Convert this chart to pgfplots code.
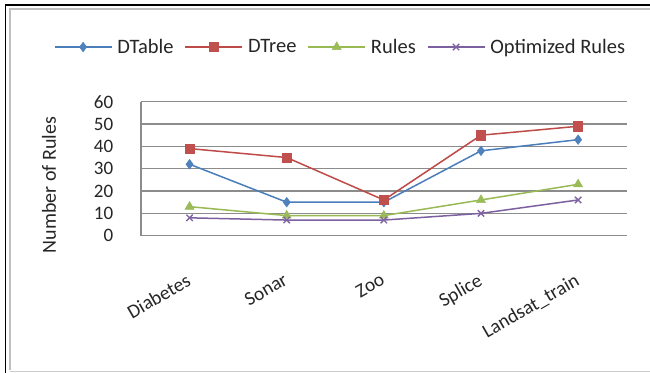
\documentclass[border=0pt]{standalone}
\usepackage{fontspec}
\setmainfont{Carlito}
\usepackage{pgfplots}
\pgfplotsset{compat=1.18}

\definecolor{dtableL}{HTML}{4A7EBB}
\definecolor{dtableM}{HTML}{4F81BD}
\definecolor{dtreeL}{HTML}{BE4B48}
\definecolor{dtreeM}{HTML}{C0504D}
\definecolor{rulesL}{HTML}{98B954}
\definecolor{rulesM}{HTML}{9BBB59}
\definecolor{optL}{HTML}{7D60A0}
\definecolor{optM}{HTML}{8064A2}
\definecolor{gridgray}{HTML}{8C8C8C}
\definecolor{txt}{HTML}{262626}

\begin{document}
\begin{tikzpicture}
% page and frame
\path[use as bounding box] (0bp,0bp) rectangle (650bp,373bp);
\fill[white] (0bp,0bp) rectangle (650bp,373bp);
\draw[black, line width=1.6bp] (5.5bp,0bp) -- (5.5bp,368bp) -- (650bp,368bp);
\draw[black!25, line width=2.5bp] (10bp,2.5bp) -- (10bp,364bp) -- (650bp,364bp);
\draw[black!20, line width=1bp] (10bp,1.5bp) -- (650bp,1.5bp);

\begin{axis}[
  at={(141bp,137.3bp)}, anchor=south west,
  scale only axis, width=485.7bp, height=134bp,
  xmin=-0.5, xmax=4.5, ymin=0, ymax=60,
  xtick={0,1,2,3,4},
  xticklabels={Diabetes,Sonar,Zoo,Splice,Landsat\_train},
  ytick={0,10,20,30,40,50,60},
  ymajorgrids,
  grid style={gridgray, line width=1.3bp},
  axis x line*=bottom, axis y line*=left,
  axis line style={gridgray, line width=1.3bp, -},
  tick style={draw=none},
  /pgf/number format/assume math mode=true,
  yticklabel style={font=\fontsize{19bp}{22bp}\selectfont, text=txt, inner sep=0pt, xshift=-27bp},
  xticklabel style={font=\fontsize{19.5bp}{23bp}\selectfont, text=txt, inner sep=0pt,
    xshift=-4bp, yshift=-36bp, rotate=30, anchor=north east},
  ylabel={Number of Rules},
  every axis y label/.style={at={(axis description cs:-0.1894,0.378)}, rotate=90, anchor=center,
    font=\fontsize{20bp}{24bp}\selectfont, text=txt},
  legend columns=4,
  legend style={draw=none, fill=none, at={(axis description cs:-0.181,1.408)}, anchor=west,
    font=\fontsize{20.5bp}{24bp}\selectfont, text=txt,
    inner sep=0pt, nodes={inner sep=0pt},
    /tikz/every odd column/.append style={column sep=5bp},
    /tikz/every even column/.append style={column sep=11bp}},
  legend image code/.code={\draw[mark repeat=2, mark phase=2, #1]
    plot coordinates {(0bp,0bp) (28.5bp,0bp) (57bp,0bp)};},
  line width=1.5bp,
]
\addplot[dtableL, mark=diamond*, mark size=4.8bp, mark options={fill=dtableM, draw=dtableM, line width=0.5bp}]
  coordinates {(0,32) (1,15) (2,15) (3,38) (4,43)};
\addlegendentry{DTable}
\addplot[dtreeL, mark=square*, mark size=4.6bp, mark options={fill=dtreeM, draw=dtreeM, line width=0.5bp}]
  coordinates {(0,39) (1,35) (2,16) (3,45) (4,49)};
\addlegendentry{DTree}
\addplot[rulesL, mark=triangle*, mark size=5.2bp, mark options={fill=rulesM, draw=rulesM, line width=0.5bp}]
  coordinates {(0,13) (1,9) (2,9) (3,16) (4,23)};
\addlegendentry{Rules}
\addplot[optL, mark=x, mark size=4.5bp, mark options={draw=optM, line width=1.3bp}]
  coordinates {(0,8) (1,7) (2,7) (3,10) (4,16)};
\addlegendentry{Optimized Rules}
\end{axis}
\end{tikzpicture}
\end{document}
